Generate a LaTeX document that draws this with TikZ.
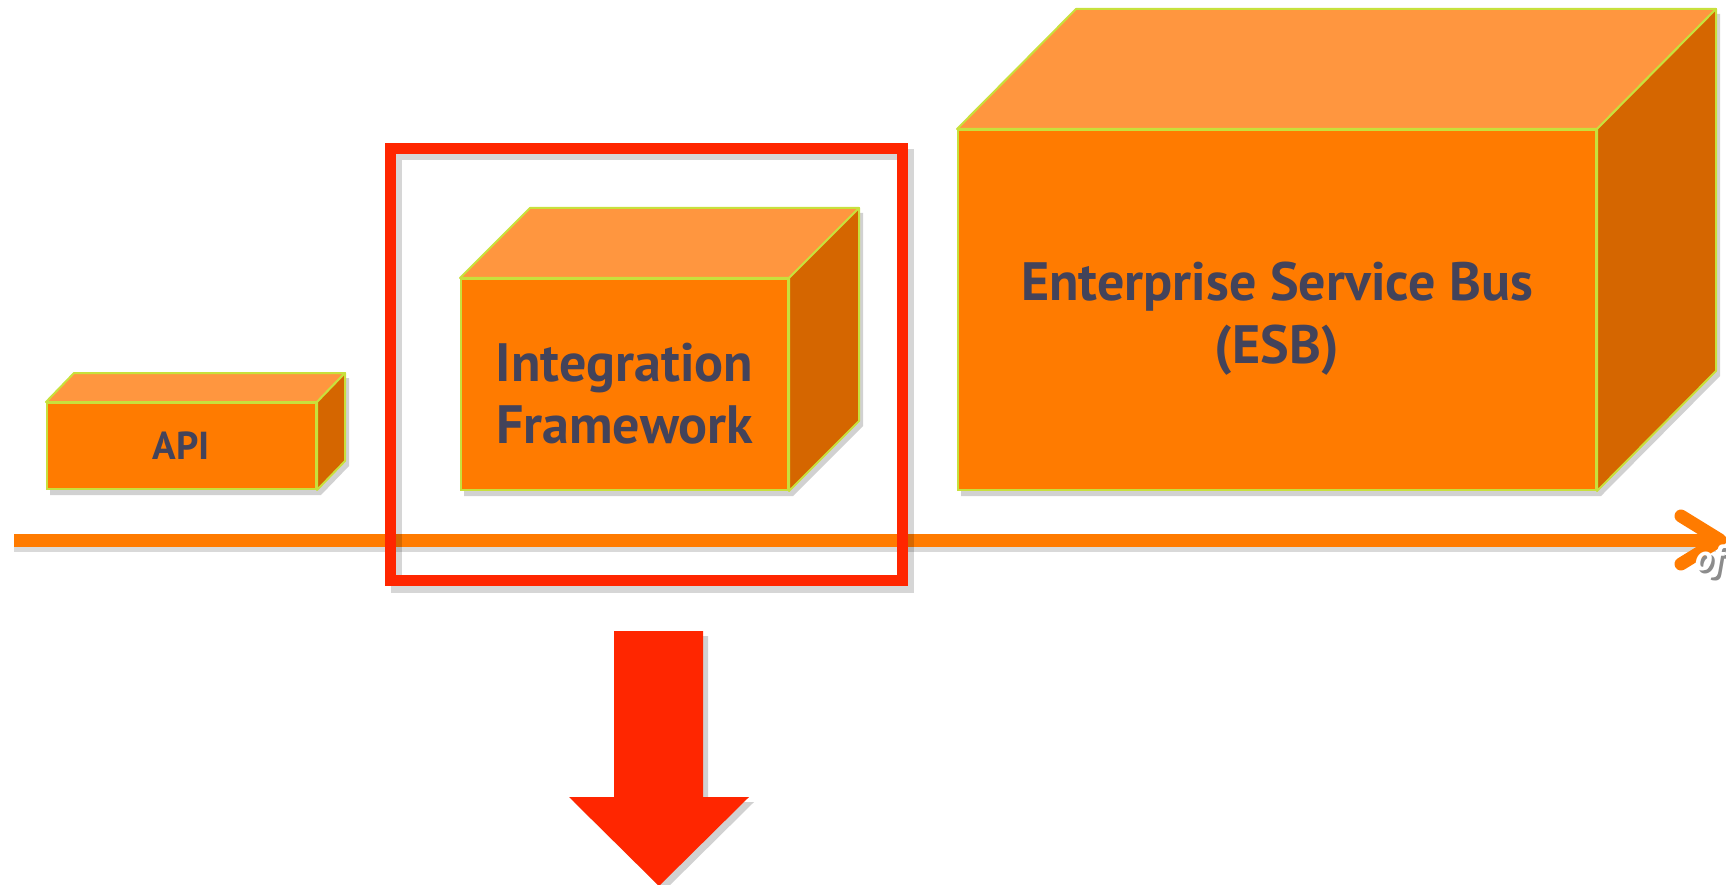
\documentclass[tikz,border=0pt]{standalone}
\usepackage{fontspec}
\setmainfont{PT Sans}
\usetikzlibrary{backgrounds}
\definecolor{frontc}{HTML}{FF7B00}
\definecolor{topc}{HTML}{FF963F}
\definecolor{sidec}{HTML}{D56600}
\definecolor{edgec}{HTML}{C8E03C}
\definecolor{txtc}{HTML}{43435A}
\definecolor{redc}{HTML}{FF2600}
\definecolor{axisc}{HTML}{FF7B00}
\tikzset{
  frontface/.style={draw=edgec, line width=2pt, fill=frontc, inner sep=0pt},
  boxtext/.style={inner sep=0pt, text=txtc, align=center},
  topface/.style={draw=edgec, line width=2pt, fill=topc, line join=round},
  sideface/.style={draw=edgec, line width=2pt, fill=sidec, line join=round},
  shadowc/.style={fill=black, opacity=0.18},
  bigtext/.style={font=\fontsize{54}{62}\selectfont\bfseries},
  axisline/.style={draw=axisc, line width=13pt},
  redframe/.style={draw=redc, line width=11pt, inner sep=0pt},
}
\newcommand{\cubefaces}[3]{%
  \begin{pgfonlayer}{background}
    \fill[shadowc] ([shift={(4,5)}]#1.south west) -- ([shift={(4,5)}]#1.south east)
      -- ([shift={(#2+4,#3+5)}]#1.south east) -- ([shift={(#2+4,#3+5)}]#1.north east)
      -- ([shift={(#2+4,#3+5)}]#1.north west) -- ([shift={(4,5)}]#1.north west) -- cycle;
  \end{pgfonlayer}
  \draw[topface] (#1.north west) -- ([shift={(#2,#3)}]#1.north west)
      -- ([shift={(#2,#3)}]#1.north east) -- (#1.north east) -- cycle;
  \draw[sideface] (#1.north east) -- ([shift={(#2,#3)}]#1.north east)
      -- ([shift={(#2,#3)}]#1.south east) -- (#1.south east) -- cycle;
}
\begin{document}
\begin{tikzpicture}[x=1pt,y=-1pt]
\useasboundingbox (0,0) rectangle (1726,885);

% API box
\node[frontface, minimum width=269pt, minimum height=86pt] (api) at (181.5,446) {};
\cubefaces{api}{28}{-29}
\node[boxtext, font=\fontsize{39}{46}\selectfont\bfseries] (apitext) at (api.center) {API};

% Integration Framework box
\node[frontface, minimum width=327pt, minimum height=211pt] (intf) at (624.5,384.5) {};
\cubefaces{intf}{70}{-70}
\node[boxtext, bigtext] (intftext) at ([yshift=-9pt]intf.center) {Integration\\Framework};

% ESB box
\node[frontface, minimum width=638pt, minimum height=360pt] (esb) at (1277,310) {};
\cubefaces{esb}{119}{-120}
\node[boxtext, font=\fontsize{54}{63}\selectfont\bfseries] (esbtext) at ([yshift=-9pt]esb.center)
  {Enterprise Service Bus\\(ESB)};

% axis
\coordinate (axs) at (14,540);
\coordinate (axe) at (1720,540);
\coordinate (axu) at (1681,516);
\coordinate (axl) at (1681,564);
\draw[black, opacity=0.15, line width=13pt] (14,545) -- (1716,545);
\draw[axisline] (axs) -- (axe);
\draw[axisline, line cap=round, line join=round] (axu) -- (axe) -- (axl);
\node[anchor=base west, text=black!45, font=\fontsize{36}{40}\selectfont\bfseries\itshape]
  (ofshadow) at (1694,573) {of};
\node[anchor=base west, text=white, font=\fontsize{36}{40}\selectfont\bfseries\itshape]
  (oftext) at (1691,570) {of};

% red selection frame (over the axis)
\draw[black, opacity=0.16, line width=11pt] (396,155) rectangle (908,587);
\node[redframe, minimum width=512pt, minimum height=432pt] (frame) at (646.5,364.5) {};

% red down arrow
\fill[black, opacity=0.18] (619,636) -- (708,636) -- (708,802) -- (754,802) -- (664,891)
  -- (574,802) -- (619,802) -- cycle;
\fill[redc] (614,631) -- (703,631) -- (703,797) -- (749,797) -- (659,886)
  -- (569,797) -- (614,797) -- cycle;
\end{tikzpicture}
\end{document}
